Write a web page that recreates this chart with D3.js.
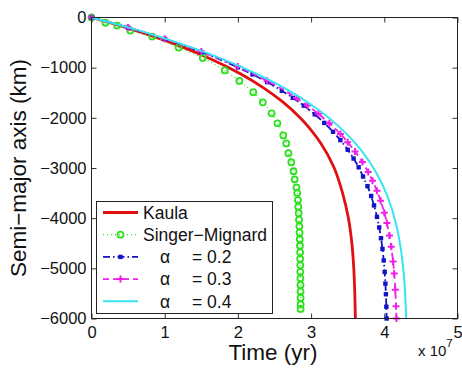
<!DOCTYPE html>
<html>
<head>
<meta charset="utf-8">
<script src="https://cdn.jsdelivr.net/npm/d3@7"></script>
<style>
  body { margin: 0; background: #fff; }
  svg { display: block; font-family: "Liberation Sans", Arial, sans-serif; }
</style>
</head>
<body>
<div id="chart"></div>
<script>
// values: [time (1e7 yr), semi-major axis change (km)]
const timeTicks = [0, 1, 2, 3, 4, 5];
const axisTicks = [0, -1000, -2000, -3000, -4000, -5000, -6000];

const kaula = [[0, 0], [0.33, -137], [0.67, -292], [1.0, -456], [1.22, -576], [1.63, -827], [2.04, -1127],
  [2.35, -1402], [2.6, -1668], [2.85, -1999], [3.0, -2243], [3.13, -2500], [3.31, -2981], [3.43, -3500],
  [3.51, -4000], [3.557, -4500], [3.583, -5000], [3.597, -5500], [3.605, -6000]];

const singerMignard = [[0, 0], [0.19, -105], [0.35, -160], [0.53, -260], [0.83, -380], [1.19, -600], [1.52, -805],
  [1.82, -1055], [2.02, -1265], [2.21, -1490], [2.34, -1690], [2.46, -1910], [2.54, -2110], [2.62, -2350],
  [2.66, -2510], [2.69, -2705], [2.73, -2885], [2.76, -3065], [2.775, -3225], [2.80, -3385], [2.81, -3500],
  [2.82, -3640], [2.825, -3770], [2.83, -3900], [2.835, -4030], [2.84, -4160], [2.842, -4290], [2.845, -4420],
  [2.848, -4550], [2.85, -4680], [2.851, -4810], [2.852, -4940], [2.853, -5070], [2.854, -5200], [2.855, -5330],
  [2.856, -5460], [2.856, -5590], [2.857, -5720], [2.857, -5810]];

const alpha02 = [[0, 0], [0.5, -201], [1.0, -427], [1.5, -687], [2.0, -994], [2.2, -1134], [2.4, -1288],
  [2.6, -1460], [2.75, -1602], [2.9, -1757], [3.05, -1931], [3.18, -2101], [3.3, -2278], [3.4, -2445],
  [3.5, -2636], [3.58, -2810], [3.65, -2986], [3.71, -3170], [3.77, -3361], [3.82, -3558], [3.86, -3747],
  [3.9, -3974], [3.93, -4184], [3.955, -4399], [3.975, -4613], [3.992, -4844], [4.005, -5072], [4.015, -5304],
  [4.022, -5517], [4.028, -5765], [4.032, -6000]];

const alpha03 = [[0, 0], [0.5, -200], [1.0, -424], [1.5, -680], [2.0, -978], [2.4, -1262], [2.8, -1604],
  [2.95, -1754], [3.1, -1921], [3.25, -2109], [3.4, -2322], [3.5, -2486], [3.6, -2670], [3.7, -2882],
  [3.78, -3082], [3.84, -3255], [3.9, -3455], [3.95, -3653], [4.0, -3891], [4.035, -4094], [4.07, -4344],
  [4.095, -4571], [4.12, -4866], [4.135, -5101], [4.15, -5428], [4.16, -5755], [4.166, -6000]];

const alpha04 = [[0, 0], [0.5, -197], [1.0, -416], [1.5, -665], [2.0, -954], [2.5, -1299], [2.8, -1548],
  [3.1, -1840], [3.4, -2200], [3.6, -2500], [3.8, -2881], [3.95, -3259], [4.05, -3592], [4.15, -4055],
  [4.22, -4556], [4.26, -5020], [4.285, -5509], [4.299, -6000]];

const series = [
  {name: "Kaula", data: kaula, color: "#e01010", width: 2.8, dash: null, marker: "dot"},
  {name: "Singer\u2212Mignard", data: singerMignard, color: "#2ee020", width: 1.2, dash: "1,3", marker: "circle"},
  {name: "0.2", data: alpha02, color: "#1212c8", width: 1.8, dash: "7,3,1.5,3", marker: "square"},
  {name: "0.3", data: alpha03, color: "#f020e8", width: 1.8, dash: "6,4", marker: "plus"},
  {name: "0.4", data: alpha04, color: "#35e6f0", width: 2, dash: null, marker: null}
];

const W = 462, H = 368;
const svg = d3.select("#chart").append("svg").attr("width", W).attr("height", H);

const x = d3.scaleLinear().domain([0, 5]).range([91.5, 457.5]);
const y = d3.scaleLinear().domain([-6000, 0]).range([318.5, 17.5]);

// axes with inward ticks on every side
svg.append("g")
  .attr("transform", `translate(0,${y(-6000)})`)
  .call(d3.axisBottom(x).tickValues(timeTicks).tickFormat(d3.format("d")).tickSize(-5).tickPadding(8))
  .call(g => g.select(".domain").remove())
  .call(g => g.selectAll("text").attr("font-size", 16.5).attr("fill", "#111"));
svg.append("g")
  .attr("transform", `translate(0,${y(0)})`)
  .call(d3.axisTop(x).tickValues(timeTicks).tickFormat("").tickSize(-5))
  .call(g => g.select(".domain").remove());
svg.append("g")
  .attr("transform", `translate(${x(0)},0)`)
  .call(d3.axisLeft(y).tickValues(axisTicks).tickFormat(d3.format("d")).tickSize(-5).tickPadding(5))
  .call(g => g.select(".domain").remove())
  .call(g => g.selectAll("text").attr("font-size", 16.5).attr("fill", "#111"));
svg.append("g")
  .attr("transform", `translate(${x(5)},0)`)
  .call(d3.axisRight(y).tickValues(axisTicks).tickFormat("").tickSize(-5))
  .call(g => g.select(".domain").remove());
svg.selectAll(".tick line").attr("stroke", "#333");

const plot = svg.append("g");

const line = d3.line()
  .x(d => x(d[0]))
  .y(d => y(d[1]))
  .curve(d3.curveMonotoneY);

function drawMarker(g, type, color, cx, cy) {
  if (type === "circle") {
    g.append("circle").attr("cx", cx).attr("cy", cy).attr("r", 3)
      .attr("fill", "none").attr("stroke", color).attr("stroke-width", 1.8);
  } else if (type === "square") {
    g.append("rect").attr("x", cx - 2.2).attr("y", cy - 2.2).attr("width", 4.4).attr("height", 4.4)
      .attr("fill", color);
  } else if (type === "plus") {
    g.append("path").attr("d", `M${cx - 3.5},${cy}H${cx + 3.5}M${cx},${cy - 3.5}V${cy + 3.5}`)
      .attr("stroke", color).attr("stroke-width", 2);
  } else if (type === "dot") {
    g.append("circle").attr("cx", cx).attr("cy", cy).attr("r", 1.3).attr("fill", color);
  }
}

series.forEach(s => {
  plot.append("path")
    .datum(s.data)
    .attr("fill", "none")
    .attr("stroke", s.color)
    .attr("stroke-width", s.width)
    .attr("stroke-dasharray", s.dash)
    .attr("d", line);
  if (s.marker && s.marker !== "dot") {
    const mg = plot.append("g");
    s.data.forEach(d => drawMarker(mg, s.marker, s.color, x(d[0]), y(d[1])));
  }
});

// frame
svg.append("rect")
  .attr("x", x(0)).attr("y", y(0))
  .attr("width", x(5) - x(0)).attr("height", y(-6000) - y(0))
  .attr("fill", "none").attr("stroke", "#222").attr("stroke-width", 1);

// legend
const legend = svg.append("g");
legend.append("rect")
  .attr("x", 96.5).attr("y", 201.5).attr("width", 176).attr("height", 112)
  .attr("fill", "#fff").attr("stroke", "#222").attr("stroke-width", 1);

series.forEach((s, i) => {
  const ly = 212.5 + i * 22.2;
  legend.append("line")
    .attr("x1", 103).attr("x2", 138).attr("y1", ly).attr("y2", ly)
    .attr("stroke", s.color).attr("stroke-width", s.width)
    .attr("stroke-dasharray", s.dash);
  drawMarker(legend, s.marker, s.color, 120.5, ly);
  const t = legend.append("text")
    .attr("y", ly).attr("dy", "0.36em")
    .attr("font-size", 17.5).attr("fill", "#111");
  if (i < 2) {
    t.attr("x", 143).text(s.name);
  } else {
    t.append("tspan").attr("x", 160).text("\u03b1");
    t.append("tspan").attr("x", 192).text("= " + s.name);
  }
});

// axis labels
svg.append("text")
  .attr("x", 273).attr("y", 360)
  .attr("text-anchor", "middle").attr("font-size", 22.5).attr("fill", "#111")
  .text("Time (yr)");
svg.append("text")
  .attr("transform", `translate(26,168) rotate(-90)`)
  .attr("text-anchor", "middle").attr("font-size", 22.5).attr("fill", "#111")
  .text("Semi\u2212major axis (km)");

const mult = svg.append("text").attr("x", 418).attr("y", 356).attr("font-size", 15).attr("fill", "#111");
mult.append("tspan").text("x 10");
mult.append("tspan").attr("dy", -9).attr("font-size", 11.5).text("7");
</script>
</body>
</html>
